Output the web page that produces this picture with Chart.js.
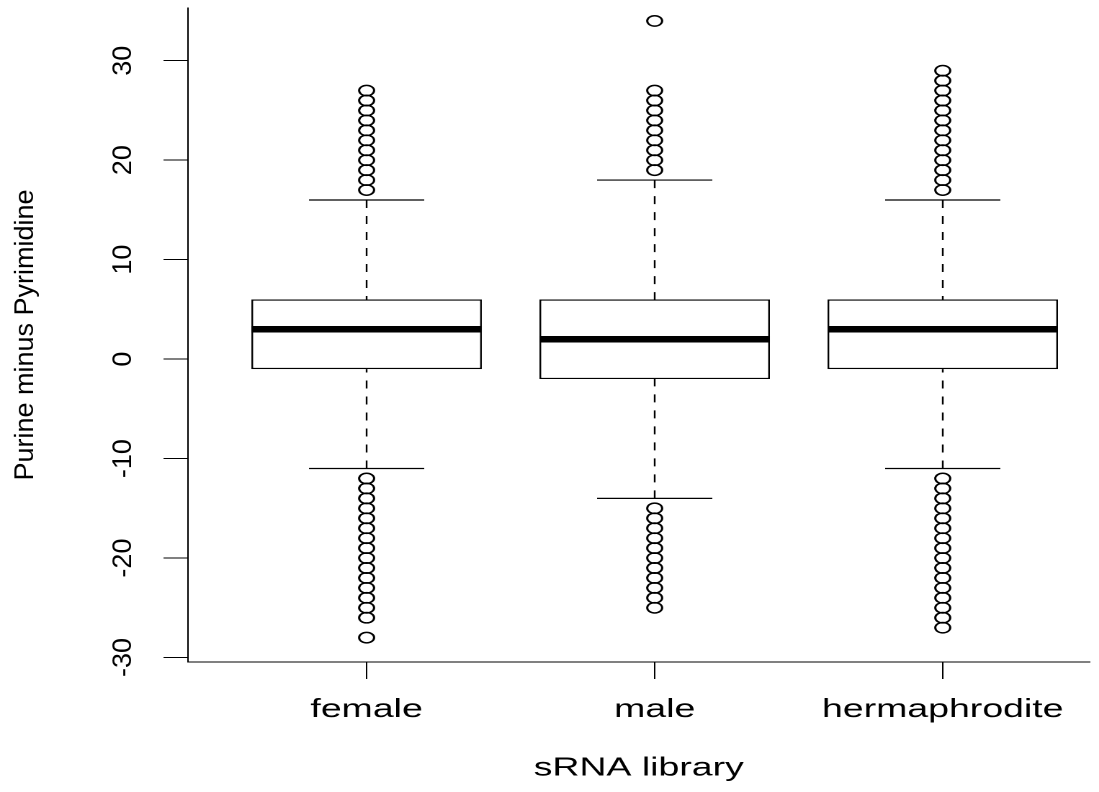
<!DOCTYPE html>
<html>
<head>
<meta charset="utf-8">
<title>Purine minus Pyrimidine</title>
<script src="https://cdn.jsdelivr.net/npm/chart.js@4.4.1/dist/chart.umd.min.js"></script>
<style>
  html, body { margin: 0; padding: 0; background: #fff; overflow: hidden; }
  /* 元の図は横方向に引き伸ばされているので、同じように横だけ拡大する */
  #wrap { width: 763px; height: 792px; transform: scaleX(1.4404); transform-origin: 0 0; }
  #boxChart { width: 763px; height: 792px; }
</style>
</head>
<body>
<div id="wrap"><canvas id="boxChart" width="763" height="792"></canvas></div>
<script>
// ===== データ =====
const categories = ['female', 'male', 'hermaphrodite'];
const whiskerLow = [-11, -14, -11];
const q1 = [-1, -2, -1];
const medians = [3, 2, 3];
const q3 = [6, 6, 6];
const whiskerHigh = [16, 18, 16];
const outliersFemale = [27, 26, 25, 24, 23, 22, 21, 20, 19, 18, 17,
    -12, -13, -14, -15, -16, -17, -18, -19, -20, -21, -22, -23, -24, -25, -26, -28];
const outliersMale = [34, 27, 26, 25, 24, 23, 22, 21, 20, 19,
    -15, -16, -17, -18, -19, -20, -21, -22, -23, -24, -25];
const outliersHerm = [29, 28, 27, 26, 25, 24, 23, 22, 21, 20, 19, 18, 17,
    -12, -13, -14, -15, -16, -17, -18, -19, -20, -21, -22, -23, -24, -25, -26, -27];
const yTicks = [-30, -20, -10, 0, 10, 20, 30];
const xTitle = 'sRNA library';
const yTitle = 'Purine minus Pyrimidine';

const STRETCH = 1099 / 763;
const FONT = '"Liberation Sans", Arial, Helvetica, sans-serif';

document.addEventListener('DOMContentLoaded', () => {
    const outlierPoints = [];
    [outliersFemale, outliersMale, outliersHerm].forEach((list, i) => {
        list.forEach(v => outlierPoints.push({ x: i + 1, y: v }));
    });

    // ===== ひげ・中央値・縦書きテキスト =====
    const boxParts = {
        id: 'boxParts',
        beforeDatasetsDraw(chart) {
            const { ctx, scales: { x, y } } = chart;
            const bars = chart.getDatasetMeta(0).data;
            ctx.save();
            ctx.strokeStyle = '#000';
            ctx.lineWidth = 1.2;
            categories.forEach((c, i) => {
                const cx = x.getPixelForValue(i + 1);
                const capHalf = bars[i].width / 4;
                ctx.setLineDash([8, 8]);
                ctx.beginPath();
                ctx.moveTo(cx, y.getPixelForValue(whiskerHigh[i]));
                ctx.lineTo(cx, y.getPixelForValue(q3[i]));
                ctx.moveTo(cx, y.getPixelForValue(whiskerLow[i]));
                ctx.lineTo(cx, y.getPixelForValue(q1[i]));
                ctx.stroke();
                ctx.setLineDash([]);
                ctx.beginPath();
                [whiskerHigh[i], whiskerLow[i]].forEach(v => {
                    const py = y.getPixelForValue(v);
                    ctx.moveTo(cx - capHalf, py);
                    ctx.lineTo(cx + capHalf, py);
                });
                ctx.stroke();
            });
            ctx.restore();
        },
        afterDatasetsDraw(chart) {
            const { ctx, scales: { x, y } } = chart;
            const bars = chart.getDatasetMeta(0).data;
            ctx.save();
            ctx.strokeStyle = '#000';
            ctx.lineWidth = 6.5;
            ctx.lineCap = 'butt';
            categories.forEach((c, i) => {
                const cx = x.getPixelForValue(i + 1);
                const half = bars[i].width / 2;
                const py = y.getPixelForValue(medians[i]);
                ctx.beginPath();
                ctx.moveTo(cx - half, py);
                ctx.lineTo(cx + half, py);
                ctx.stroke();
            });
            ctx.restore();
        },
        afterDraw(chart) {
            const { ctx, chartArea, scales: { y } } = chart;
            const drawRotated = (text, px, py) => {
                ctx.save();
                ctx.translate(px, py);
                ctx.scale(1 / STRETCH, 1);  // 縦書き文字は引き伸ばさない
                ctx.rotate(-Math.PI / 2);
                ctx.fillText(text, 0, 0);
                ctx.restore();
            };
            ctx.save();
            ctx.fillStyle = '#000';
            ctx.font = '27px ' + FONT;
            ctx.textAlign = 'center';
            ctx.textBaseline = 'alphabetic';
            yTicks.forEach(v => drawRotated(String(v), 131 / STRETCH, y.getPixelForValue(v)));
            drawRotated(yTitle, 33 / STRETCH, (chartArea.top + chartArea.bottom) / 2);
            ctx.restore();
        }
    };

    // ===== グラフ描画 =====
    const ctx = document.getElementById('boxChart').getContext('2d');
    new Chart(ctx, {
        type: 'bar',
        data: {
            datasets: [{
                data: categories.map((c, i) => ({ x: i + 1, y: [q1[i], q3[i]] })),
                backgroundColor: '#fff',
                borderColor: '#000',
                borderWidth: 1.3,
                borderSkipped: false,
                barPercentage: 0.8,
                categoryPercentage: 1.0
            }, {
                type: 'scatter',
                data: outlierPoints,
                pointStyle: 'circle',
                pointRadius: 5.2,
                pointBorderWidth: 1.5,
                pointBackgroundColor: 'rgba(0,0,0,0)',
                pointBorderColor: '#000',
                showLine: false
            }]
        },
        options: {
            responsive: false,
            animation: false,
            devicePixelRatio: 2,
            layout: { padding: { top: 8, right: 0, bottom: 0, left: 0 } },
            plugins: {
                legend: { display: false },
                tooltip: { enabled: false }
            },
            scales: {
                x: {
                    type: 'linear',
                    min: 0.38,
                    max: 3.509,
                    offset: false,
                    afterBuildTicks: scale => {
                        scale.ticks = categories.map((c, i) => ({ value: i + 1 }));
                    },
                    afterFit: scale => { scale.height = 130; },
                    grid: { offset: false, drawOnChartArea: false, drawTicks: true, tickLength: 17, color: '#000', lineWidth: 1 },
                    border: { display: true, color: '#000', width: 1 },
                    ticks: {
                        color: '#000',
                        font: { family: FONT, size: 26 },
                        padding: 15,
                        maxRotation: 0,
                        autoSkip: false,
                        callback: v => categories[v - 1]
                    },
                    title: {
                        display: true,
                        text: xTitle,
                        color: '#000',
                        font: { family: FONT, size: 26 },
                        padding: { top: 0, bottom: 8 }
                    }
                },
                y: {
                    type: 'linear',
                    min: -30.45,
                    max: 35.3,
                    afterBuildTicks: scale => {
                        scale.ticks = yTicks.map(v => ({ value: v }));
                    },
                    afterFit: scale => { scale.width = 188 / STRETCH; },
                    grid: { drawOnChartArea: false, drawTicks: true, tickLength: 17, color: '#000', lineWidth: 1 },
                    border: { display: true, color: '#000', width: 1 },
                    ticks: { display: false }
                }
            }
        },
        plugins: [boxParts]
    });
});
</script>
</body>
</html>
